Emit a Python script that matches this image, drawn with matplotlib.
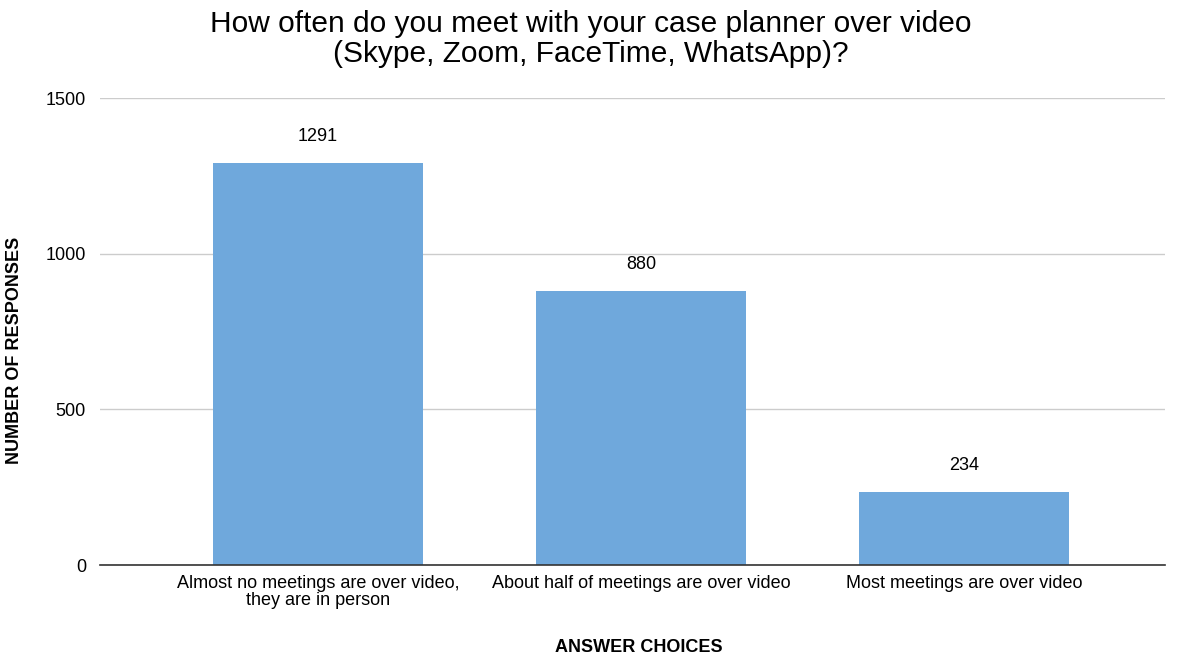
import numpy as np
import matplotlib.pyplot as plt

plt.rcParams['font.family'] = ['Liberation Sans', 'DejaVu Sans']

categories = ['Almost no meetings are over video,\nthey are in person',
              'About half of meetings are over video',
              'Most meetings are over video']
responses = [1291, 880, 234]

fig = plt.figure(figsize=(11.8, 6.56), dpi=100)
ax = fig.add_axes([0.0847, 0.1387, 0.9023, 0.7119])

x = np.arange(len(categories))
bars = ax.bar(x, responses, width=0.65, color='#6fa8dc', zorder=3)
for b, v in zip(bars, responses):
    ax.annotate(str(v), xy=(b.get_x() + b.get_width() / 2, v), xytext=(0, 13),
                textcoords='offset points', ha='center', va='bottom', fontsize=13)

ax.set_xlim(-0.675, 2.62)
ax.set_ylim(0, 1500)
ax.set_yticks([0, 500, 1000, 1500])
ax.set_xticks(x)
ax.set_xticklabels(categories, fontsize=13, linespacing=1.0)
ax.tick_params(axis='y', labelsize=13, length=0, pad=10)
ax.tick_params(axis='x', length=0, pad=7)
ax.grid(axis='y', color='#cccccc', linewidth=1, zorder=0)
for s in ['top', 'right', 'left']:
    ax.spines[s].set_visible(False)
ax.spines['bottom'].set_color('#333333')
ax.spines['bottom'].set_linewidth(1.2)
ax.spines['bottom'].set_zorder(4)

fig.text(0.5415, 1 - 647 / 656, 'ANSWER CHOICES', fontsize=13, fontweight='bold',
         ha='center', va='center')
fig.text(15 / 1180, 1 - 350 / 656, 'NUMBER OF RESPONSES', fontsize=13, fontweight='bold',
         ha='center', va='center', rotation=90)
fig.text(0.5008, 1 - 39 / 656,
         'How often do you meet with your case planner over video\n(Skype, Zoom, FaceTime, WhatsApp)?',
         fontsize=21.5, ha='center', va='center', linespacing=1.08)

plt.savefig('out.png', dpi=100)
